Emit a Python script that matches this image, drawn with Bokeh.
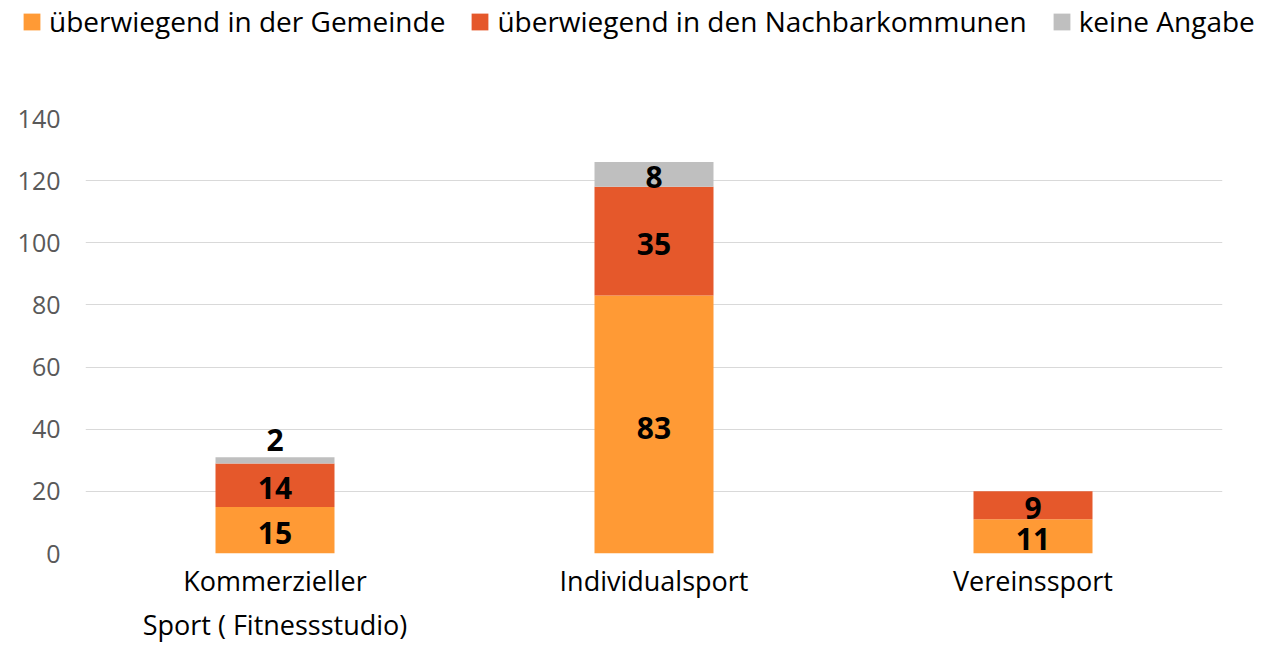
from bokeh.plotting import figure
from bokeh.models import ColumnDataSource, Legend, LegendItem, FactorRange
from bokeh.layouts import column
from bokeh.embed import file_html
from bokeh.resources import INLINE
from bokeh.core.properties import value

categories = ["Kommerzieller\nSport ( Fitnessstudio)", "Individualsport", "Vereinssport"]
series_names = ["überwiegend in der Gemeinde", "überwiegend in den Nachbarkommunen", "keine Angabe"]
gemeinde = [15, 83, 11]
nachbar = [14, 35, 9]
keine = [2, 8, 0]
colors = ["#FF9A35", "#E5582B", "#BFBFBF"]
y_ticks = [0, 20, 40, 60, 80, 100, 120, 140]

FONT = "Open Sans"
keys = ["g", "n", "k"]
src = ColumnDataSource(dict(cat=categories, g=gemeinde, n=nachbar, k=keine))

p = figure(x_range=FactorRange(*categories), y_range=(0, 140), width=1273, height=605,
           output_backend="svg", toolbar_location=None,
           min_border_left=85, min_border_right=51, min_border_top=78, min_border_bottom=92)
p.frame_align = False
p.outline_line_color = None
renderers = p.vbar_stack(keys, x="cat", width=0.314, color=colors, source=src, line_color=None)

# data labels
lab_x, lab_y, lab_t, lab_off = [], [], [], []
for i, c in enumerate(categories):
    base = 0
    for vals in (gemeinde, nachbar, keine):
        v = vals[i]
        if v > 0:
            lab_x.append(c)
            lab_t.append(str(v))
            if v < 4:
                lab_y.append(base + v)
                lab_off.append(-17)
            else:
                lab_y.append(base + v / 2)
                lab_off.append(3)
        base += v
lsrc = ColumnDataSource(dict(x=lab_x, y=lab_y, t=lab_t, off=lab_off))
p.text(x="x", y="y", text="t", y_offset="off", source=lsrc, text_align="center", text_baseline="middle",
       text_font=value(FONT), text_font_style="bold", text_font_size="30px", text_color="#000000")

p.xgrid.grid_line_color = None
p.ygrid.grid_line_color = "#D9D9D9"
p.ygrid.grid_line_width = 1
p.yaxis.ticker = y_ticks
p.yaxis.axis_line_color = None
p.yaxis.major_tick_line_color = None
p.yaxis.minor_tick_line_color = None
p.yaxis.major_label_text_font = FONT
p.yaxis.major_label_text_font_size = "25px"
p.yaxis.major_label_text_color = "#595959"
p.yaxis.major_label_standoff = 19
p.xaxis.axis_line_color = None
p.xaxis.major_tick_line_color = None
p.xaxis.major_label_text_font = FONT
p.xaxis.major_label_text_font_size = "27px"
p.xaxis.major_label_text_color = "#000000"
p.xaxis.major_label_standoff = 2

# legend in its own strip above the chart
lg = figure(width=1273, height=40, output_backend="svg", toolbar_location=None,
            min_border=0, x_range=(0, 1), y_range=(0, 1), x_axis_type=None, y_axis_type=None)
lg.frame_align = False
lg.grid.visible = False
lg.outline_line_color = None
dummy = [lg.rect(x=[5], y=[5], width=[0.1], height=[0.1], color=c, line_color=None) for c in colors]
items = [LegendItem(label=series_names[i], renderers=[dummy[i]]) for i in range(3)]
legend = Legend(items=items, orientation="horizontal", location=(21, 0),
                glyph_width=21, glyph_height=21, label_standoff=7, spacing=24,
                label_text_font=FONT, label_text_font_size="28px", label_text_color="#000000",
                padding=0, margin=0, border_line_color=None, background_fill_alpha=0)
lg.add_layout(legend, "center")

open("out.html", "w").write(file_html(column(lg, p, spacing=0), INLINE))
